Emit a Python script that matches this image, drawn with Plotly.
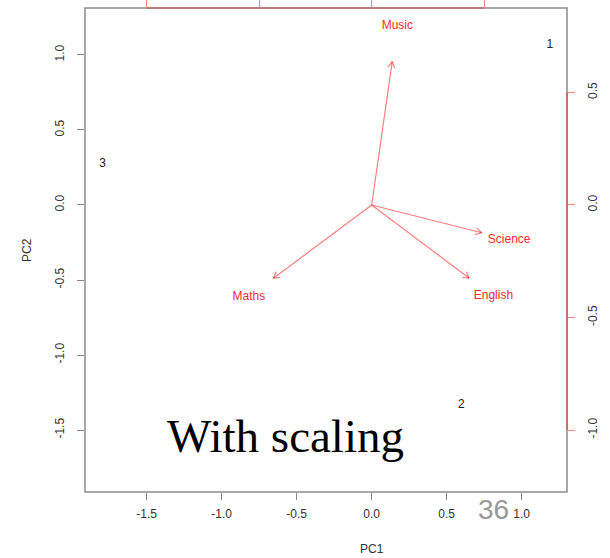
import math
import plotly.graph_objects as go

# ---- data ----
obs_labels = ["1", "2", "3"]
pc1_scores = [1.187, 0.598, -1.793]
pc2_scores = [1.067, -1.333, 0.273]

var_names = ["Maths", "Science", "English", "Music"]
load_pc1 = [-0.546, 0.611, 0.541, 0.114]
load_pc2 = [-0.407, -0.154, -0.406, 0.796]

score_ticks = [-1.5, -1.0, -0.5, 0.0, 0.5, 1.0]
score_tick_text = ["-1.5", "-1.0", "-0.5", "0.0", "0.5", "1.0"]
load_ticks = [-1.0, -0.5, 0.0, 0.5]
load_tick_text = ["-1.0", "-0.5", "0.0", "0.5"]

score_range_x = [-1.911, 1.302]
score_range_y = [-1.913, 1.313]
load_ratio = 1.5          # score units per loading unit on the secondary axes
arrow_frac = 0.8          # arrows drawn to 0.8 of the label position (R biplot)

load_range_x = [v / load_ratio for v in score_range_x]
load_range_y = [v / load_ratio for v in score_range_y]

W, H = 610, 558
ML, MR, MT, MB = 85, 43, 8, 66
plot_w = W - ML - MR
plot_h = H - MT - MB
px_per_load = plot_w / (load_range_x[1] - load_range_x[0])

RED_LINE = "rgba(255,0,0,0.5)"
RED_TEXT = "#ff2b2b"
GREY = "#8a8a8a"
FONT = "Liberation Sans, Arial, Helvetica, sans-serif"

fig = go.Figure()

# observation labels
fig.add_trace(go.Scatter(
    x=pc1_scores, y=pc2_scores, mode="text", text=obs_labels,
    textfont=dict(family=FONT, size=12, color="#222"),
    hoverinfo="skip", showlegend=False, xaxis="x", yaxis="y"))

# arrows (shaft + open head)
head_len = 7.0 / px_per_load
ax_, ay_ = [], []
for lx, ly in zip(load_pc1, load_pc2):
    tx, ty = lx * arrow_frac, ly * arrow_frac
    th = math.atan2(ty, tx)
    ax_ += [0, tx, None]
    ay_ += [0, ty, None]
    for d in (math.radians(30), -math.radians(30)):
        ax_ += [tx, tx - head_len * math.cos(th + d), None]
        ay_ += [ty, ty - head_len * math.sin(th + d), None]
fig.add_trace(go.Scatter(
    x=ax_, y=ay_, mode="lines", line=dict(color=RED_LINE, width=1.2),
    hoverinfo="skip", showlegend=False, xaxis="x2", yaxis="y2"))

# variable labels
fig.add_trace(go.Scatter(
    x=load_pc1, y=load_pc2, mode="text", text=var_names,
    textfont=dict(family=FONT, size=12, color=RED_TEXT),
    hoverinfo="skip", showlegend=False, xaxis="x2", yaxis="y2"))

axis_common = dict(showgrid=False, zeroline=False, showline=False, automargin=False,
                   ticks="outside", ticklen=7, tickwidth=1,
                   tickfont=dict(family=FONT, size=12, color="#333"))

fig.update_layout(
    width=W, height=H,
    margin=dict(l=ML, r=MR, t=MT, b=MB, autoexpand=False),
    paper_bgcolor="white", plot_bgcolor="white",
    showlegend=False,
    xaxis=dict(range=score_range_x, tickvals=score_ticks, ticktext=score_tick_text,
               tickcolor=GREY, ticklabelstandoff=4, **axis_common),
    yaxis=dict(range=score_range_y, tickvals=score_ticks, ticktext=score_tick_text,
               tickcolor=GREY, tickangle=-90, ticklabelstandoff=8, **axis_common),
    xaxis2=dict(range=load_range_x, overlaying="x", side="top", anchor="y",
                tickvals=load_ticks, showticklabels=False, tickcolor=RED_LINE,
                **{k: v for k, v in axis_common.items() if k != "tickfont"}),
    yaxis2=dict(range=load_range_y, overlaying="y", side="right", anchor="x",
                tickvals=load_ticks, ticktext=load_tick_text, tickangle=-90,
                tickcolor=RED_LINE, ticklabelstandoff=8, **axis_common),
)

# plot box
fig.add_shape(type="rect", xref="paper", yref="paper", x0=0, y0=0, x1=1, y1=1,
              line=dict(color=GREY, width=1.5), layer="above")
# red secondary axis lines spanning the tick range
fig.add_shape(type="line", xref="x2", yref="paper", x0=load_ticks[0], x1=load_ticks[-1],
              y0=1, y1=1, line=dict(color=RED_LINE, width=1.2), layer="above")
fig.add_shape(type="line", xref="paper", yref="y2", x0=1, x1=1,
              y0=load_ticks[0], y1=load_ticks[-1], line=dict(color=RED_LINE, width=1.2),
              layer="above")

# axis titles
fig.add_annotation(text="PC1", xref="x", x=0, yref="paper", y=0, yshift=-57,
                   showarrow=False, xanchor="center", yanchor="middle",
                   font=dict(family=FONT, size=12, color="#333"))
fig.add_annotation(text="PC2", xref="paper", x=0, xshift=-58, yref="paper", y=0.5,
                   showarrow=False, textangle=-90, xanchor="center", yanchor="middle",
                   font=dict(family=FONT, size=12, color="#333"))

# overlay texts
fig.add_annotation(text="With scaling", xref="paper", x=(285 - ML) / plot_w,
                   yref="paper", y=(MT + plot_h - 436) / plot_h, showarrow=False,
                   xanchor="center", yanchor="middle",
                   font=dict(family="Liberation Serif, Times New Roman, serif", size=47, color="black"))
fig.add_annotation(text="36", xref="paper", x=(493 - ML) / plot_w, yref="paper",
                   y=(MT + plot_h - 509) / plot_h, showarrow=False,
                   xanchor="center", yanchor="middle",
                   font=dict(family=FONT, size=28, color="#999"))

fig.write_html("out.html")
